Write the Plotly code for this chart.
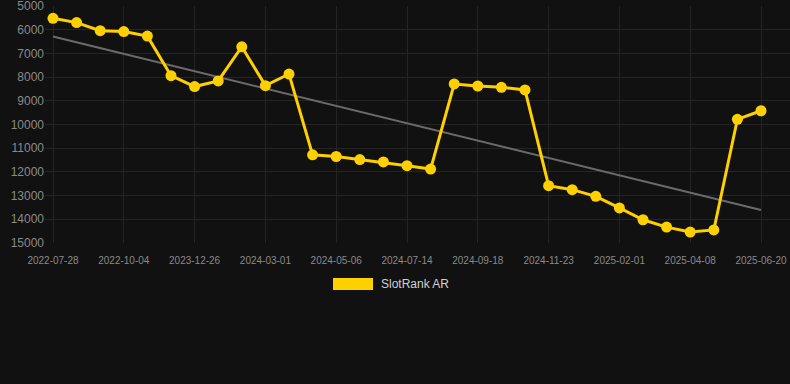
import numpy as np
import plotly.graph_objects as go

tick_labels = ["2022-07-28", "2022-10-04", "2023-12-26", "2024-03-01", "2024-05-06",
               "2024-07-14", "2024-09-18", "2024-11-23", "2025-02-01", "2025-04-08", "2025-06-20"]
rank_values = [5520, 5700, 6040, 6080, 6270, 7940, 8400, 8160, 6720, 8360, 7870,
               11280, 11350, 11480, 11580, 11740, 11880, 8290, 8375, 8430, 8540,
               12580, 12750, 13030, 13520, 14020, 14330, 14540, 14450, 9780, 9420]
y_ticks = list(range(5000, 15001, 1000))
series_name = "SlotRank AR"

x_idx = np.arange(len(rank_values))
tick_pos = x_idx[::3]

slope, intercept = np.polyfit(x_idx, rank_values, 1)
trend = slope * x_idx + intercept

YELLOW = "#FFD000"
fig = go.Figure()
fig.add_trace(go.Scatter(x=x_idx, y=trend, mode="lines",
                         line=dict(color="#6b6b6b", width=2), showlegend=False, hoverinfo="skip"))
fig.add_trace(go.Scatter(x=x_idx, y=rank_values, mode="lines+markers", name=series_name,
                         line=dict(color=YELLOW, width=3), marker=dict(size=11, color=YELLOW),
                         showlegend=False))

L, R, T, B = 45, 0, 6, 141
W, H = 790, 384
pw, ph = W - L - R, H - T - B
def px(xp):
    return (xp - L) / pw
def py(yp):
    return (H - B - yp) / ph

fig.add_shape(type="rect", xref="paper", yref="paper", x0=px(333), x1=px(373), y0=py(290), y1=py(278),
              fillcolor=YELLOW, line=dict(width=0))
fig.add_annotation(xref="paper", yref="paper", x=px(379), y=py(284), text=series_name, showarrow=False,
                   xanchor="left", yanchor="middle", font=dict(size=12, color="#d0d0d0"))

step = 708 / 30
fig.update_layout(
    width=W, height=H,
    margin=dict(l=L, r=R, t=T, b=B, autoexpand=False),
    paper_bgcolor="#111111", plot_bgcolor="#111111",
    font=dict(family="Arial, Liberation Sans, sans-serif"),
    showlegend=False,
    xaxis=dict(range=[-8 / step, 30 + 29 / step], tickvals=tick_pos, ticktext=tick_labels,
               showgrid=True, gridcolor="#242424", gridwidth=1, zeroline=False,
               tickfont=dict(size=10, color="#8a8a8a"), ticks="", showline=False, automargin=False,
               ticklabelstandoff=10, ticklabeloverflow="allow"),
    yaxis=dict(range=[15000.5, 4999.5], tickvals=y_ticks, ticktext=[str(v) for v in y_ticks],
               showgrid=True, gridcolor="#242424", gridwidth=1, zeroline=False,
               tickfont=dict(size=12, color="#8a8a8a"), ticks="", showline=False, automargin=False,
               ticklabeloverflow="allow"),
)
fig.write_html("out.html", config={"displayModeBar": False},
               post_script="document.body.style.margin='0';document.body.style.background='#111111';")
